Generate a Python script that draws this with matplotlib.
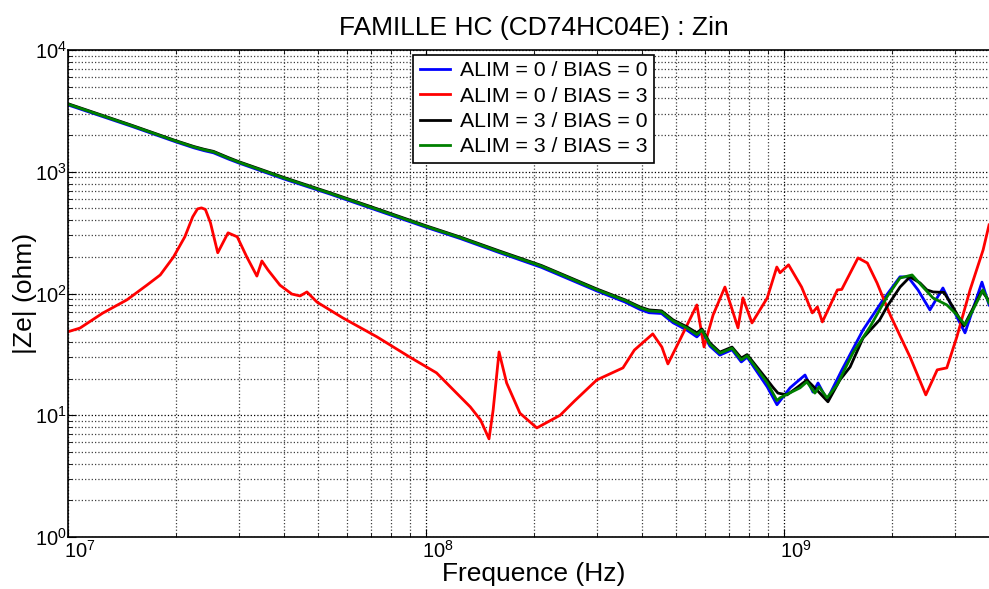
import numpy as np
import matplotlib.pyplot as plt
from matplotlib.transforms import ScaledTranslation

plt.rcParams['font.family'] = ['Liberation Sans', 'DejaVu Sans']
plt.rcParams['mathtext.default'] = 'regular'

# Frequencies (Hz) and impedance magnitudes (ohm)
F_MAIN = [1.0e7, 1.5e7, 2.0e7, 2.25e7, 2.4e7, 2.55e7, 2.8e7, 3.0e7, 4.0e7, 5.4e7,
          7.0e7, 1.0e8, 1.25e8, 1.6e8, 2.1e8, 3.0e8, 3.6e8, 3.96e8, 4.2e8, 4.55e8,
          4.9e8, 5.36e8, 5.71e8, 5.9e8, 6.21e8, 6.62e8, 7.16e8, 7.6e8, 7.89e8]

Z_BLACK_MAIN = [3620, 2420, 1800, 1610, 1530, 1470, 1310, 1210, 900, 672,
                518, 360, 290, 224, 170, 109, 88.6, 77.6, 73.3, 72.0,
                60.7, 53.2, 47.5, 51.1, 39.3, 33.0, 36.3, 29.5, 31.5]
Z_BLUE_MAIN = [3540, 2370, 1760, 1570, 1490, 1430, 1275, 1180, 875, 655,
               503, 350, 282, 217, 164, 105, 85.0, 74.0, 69.5, 68.5,
               57.5, 50.0, 44.0, 48.5, 37.0, 31.2, 34.5, 27.4, 30.0]
Z_GREEN_MAIN = [3590, 2400, 1785, 1595, 1515, 1455, 1295, 1198, 890, 665,
                512, 356, 287, 221, 168, 107.5, 87.5, 76.5, 72.0, 70.8,
                59.5, 52.0, 46.0, 50.0, 38.3, 32.3, 35.5, 28.5, 30.8]

F_BLACK_HI = [8.98e8, 9.31e8, 9.62e8, 1.02e9, 1.094e9, 1.159e9, 1.236e9, 1.327e9,
              1.433e9, 1.53e9, 1.663e9, 1.85e9, 1.94e9, 2.11e9, 2.249e9, 2.4e9,
              2.508e9, 2.61e9, 2.8e9, 2.964e9, 3.18e9, 3.573e9, 3.74e9]
Z_BLACK_HI = [19.5, 17.0, 15.2, 14.7, 17.1, 19.5, 16.1, 12.9,
              19.5, 24.9, 43.1, 60.7, 78.0, 113, 137, 122,
              107, 103, 102, 77.6, 54.0, 105, 87.0]

F_BLUE_HI = [8.98e8, 9.56e8, 1.04e9, 1.087e9, 1.145e9, 1.205e9, 1.245e9, 1.319e9,
             1.452e9, 1.663e9, 1.891e9, 2.109e9, 2.22e9, 2.368e9, 2.557e9, 2.78e9,
             3.041e9, 3.204e9, 3.573e9, 3.74e9]
Z_BLUE_HI = [17.1, 12.2, 16.8, 18.8, 21.4, 15.5, 18.4, 13.4,
             23.6, 50.2, 88.6, 137, 137, 107, 73.3, 111,
             64.2, 47.5, 124, 80.5]

F_GREEN_HI = [8.98e8, 9.56e8, 9.75e8, 1.109e9, 1.159e9, 1.22e9, 1.253e9, 1.319e9,
              1.406e9, 1.558e9, 1.739e9, 1.94e9, 2.109e9, 2.28e9, 2.445e9, 2.607e9,
              2.852e9, 3.041e9, 3.204e9, 3.373e9, 3.597e9, 3.74e9]
Z_GREEN_HI = [18.5, 13.2, 13.9, 16.8, 18.8, 15.2, 17.1, 13.9,
              17.7, 32.5, 53.2, 93.8, 134, 142, 113, 92,
              80.5, 66.7, 55.2, 73.3, 107, 83.7]

F_RED = [1.0e7, 1.08e7, 1.25e7, 1.46e7, 1.66e7, 1.81e7, 1.97e7, 2.12e7, 2.23e7, 2.3e7,
         2.36e7, 2.42e7, 2.5e7, 2.62e7, 2.8e7, 2.97e7, 3.16e7, 3.37e7, 3.48e7, 3.62e7,
         3.91e7, 4.22e7, 4.45e7, 4.65e7, 4.96e7, 5.86e7, 7.3e7, 9.0e7, 1.07e8, 1.17e8,
         1.33e8, 1.42e8, 1.5e8, 1.54e8, 1.6e8, 1.68e8, 1.83e8, 2.04e8, 2.37e8, 2.6e8,
         3.0e8, 3.55e8, 3.82e8, 4.3e8, 4.56e8, 4.74e8, 5.12e8, 5.71e8, 5.98e8, 6.34e8,
         6.84e8, 7.44e8, 7.68e8, 8.14e8, 8.98e8, 9.55e8, 9.75e8, 1.03e9, 1.12e9, 1.2e9,
         1.24e9, 1.28e9, 1.41e9, 1.45e9, 1.61e9, 1.71e9, 1.82e9, 1.98e9, 2.25e9, 2.49e9,
         2.68e9, 2.85e9, 3.04e9, 3.31e9, 3.6e9, 3.74e9]
Z_RED = [48.5, 52, 69, 88.6, 117, 142, 199, 292, 426, 495,
         505, 490, 381, 216, 315, 292, 199, 139, 185, 156,
         117, 99, 95.5, 103, 85, 63, 44, 30.1, 22.3, 17.1,
         11.7, 9.15, 6.4, 11.0, 33.1, 18.4, 10.4, 7.87, 10.0, 13.1,
         19.5, 24.5, 34.3, 46.6, 36.3, 26.4, 41.6, 80.5, 36.4, 66.7,
         113, 52.2, 92, 57.3, 92, 165, 148, 172, 113, 69.3,
         77.6, 58.4, 107, 108, 196, 178, 122, 66.7, 30.1, 14.7,
         23.6, 24.5, 44, 107, 228, 366]

LABELS = ['ALIM = 0 / BIAS = 0', 'ALIM = 0 / BIAS = 3',
          'ALIM = 3 / BIAS = 0', 'ALIM = 3 / BIAS = 3']

series = [
    (F_MAIN + F_BLUE_HI, Z_BLUE_MAIN + Z_BLUE_HI, 'blue'),
    (F_RED, Z_RED, 'red'),
    (F_MAIN + F_BLACK_HI, Z_BLACK_MAIN + Z_BLACK_HI, 'black'),
    (F_MAIN + F_GREEN_HI, Z_GREEN_MAIN + Z_GREEN_HI, 'green'),
]

fig = plt.figure(figsize=(9.89, 5.89), dpi=100)
ax = fig.add_axes([68 / 989, 52 / 589, 931.5 / 989, 487 / 589])

for (f, z, c), lab in zip(series, LABELS):
    ax.plot(f, z, color=c, linewidth=2.0, label=lab)

ax.set_xscale('log')
ax.set_yscale('log')
ax.set_xlim(1e7, 4e9)
ax.set_ylim(1, 1e4)

ax.grid(True, which='major', color='k', linestyle=':', linewidth=0.9)
ax.grid(True, which='minor', color='0.25', linestyle=':', linewidth=0.9)
ax.tick_params(which='both', direction='in', top=True, right=True, labelsize=14.5)
ax.tick_params(which='major', length=6)
ax.tick_params(which='minor', length=3)
ax.tick_params(axis='y', pad=1)
ax.tick_params(axis='x', pad=2)
for s in ax.spines.values():
    s.set_linewidth(1.2)

ax.set_title('FAMILLE HC (CD74HC04E) : Zin', fontsize=19, pad=11)
ax.set_xlabel('Frequence (Hz)', fontsize=19)
ax.set_ylabel('|Ze| (ohm)', fontsize=19)
ax.xaxis.set_label_coords(0.5, -25 / 487)
ax.yaxis.set_label_coords(-31 / 931.5, 0.5)

leg = ax.legend(loc='upper center', bbox_to_anchor=(0.5, 1 - 5 / 487),
                borderaxespad=0, fontsize=15.3, fancybox=False, framealpha=1,
                edgecolor='black', handlelength=1.4, handletextpad=0.5,
                labelspacing=0.3, borderpad=0.3)
leg.get_frame().set_linewidth(1.2)

# reference places the x tick labels slightly right of their ticks
fig.canvas.draw()
shift = ScaledTranslation(12 / 100, 0, fig.dpi_scale_trans)
for lbl in ax.get_xticklabels():
    lbl.set_transform(lbl.get_transform() + shift)

fig.savefig('out.png', dpi=100)
